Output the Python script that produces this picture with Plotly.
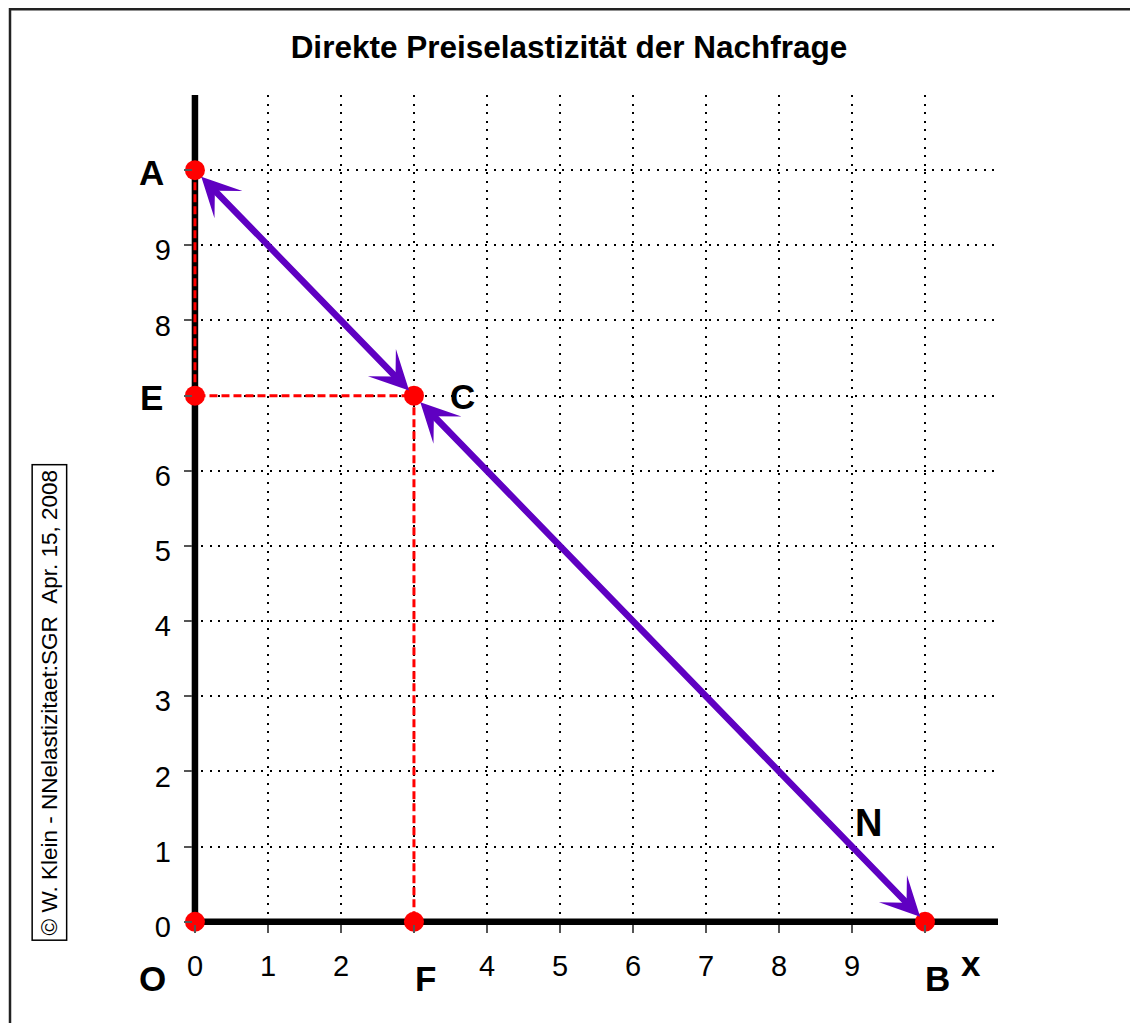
import plotly.graph_objects as go

# ---- data ----
title_text = "Direkte Preiselastizität der Nachfrage"
point_names = ["A", "E", "C", "O", "F", "B"]
point_x = [0, 0, 3, 0, 3, 10]
point_y = [10, 7, 7, 0, 0, 0]
demand_x = [0, 3, 10]          # A -> C -> B
demand_y = [10, 7, 0]
guide_x = [0, 0, 3, 3]         # A -> E -> C -> F
guide_y = [10, 7, 7, 0]
x_tickvals = [0, 1, 2, 3, 4, 5, 6, 7, 8, 9, 10]
x_ticktext = ["0", "1", "2", "", "4", "5", "6", "7", "8", "9", ""]
y_tickvals = [0, 1, 2, 3, 4, 5, 6, 7, 8, 9, 10]
y_ticktext = ["0", "1", "2", "3", "4", "5", "6", "", "8", "9", ""]
axis_max = 11
copyright_text = "© W. Klein - NNelastizitaet:SGR \u00a0Apr. 15, 2008"

# ---- styles / layout ----
FONT = "Liberation Sans, Arial, sans-serif"
PURPLE = "#5F00C2"
RED = "#FF0000"
PAD = 0.15                      # small range padding below / left of the axes
label_shift = {"A": (-43, -2), "E": (-43, -2), "C": (49, -1),
               "O": (-42, -57), "F": (12, -57), "B": (12, -57)}

W, H = 1130, 1015
ML, MT = 176, 87
PW, PH = 814, 838
MR = W - ML - PW
MB = H - MT - PH


def px_(v):   # data x -> paper fraction (for labels placed outside the axis range)
    return (v + PAD) / (axis_max + PAD)


def py_(v):
    return (v + PAD) / (axis_max + PAD)


# y tick labels get a trailing no-break space to keep a little more gap to the axis
y_ticklabels = [t + "\u00a0" if t else "" for t in y_ticktext]

fig = go.Figure()

# thick axes
fig.add_trace(go.Scatter(x=[0, 0, axis_max], y=[axis_max, 0, 0], mode="lines",
                         line=dict(color="black", width=6.5), hoverinfo="skip",
                         showlegend=False))
# red dashed guides
fig.add_trace(go.Scatter(x=guide_x, y=guide_y, mode="lines",
                         line=dict(color=RED, width=3, dash="8px,4px"),
                         hoverinfo="skip", showlegend=False))
# red points
fig.add_trace(go.Scatter(x=point_x, y=point_y, mode="markers",
                         marker=dict(color=RED, size=20, line=dict(width=0)),
                         cliponaxis=False, showlegend=False))

annotations = []
# double-headed arrows along the demand line
for i in range(len(demand_x) - 1):
    annotations.append(dict(
        x=demand_x[i + 1], y=demand_y[i + 1], ax=demand_x[i], ay=demand_y[i],
        xref="x", yref="y", axref="x", ayref="y", text="", showarrow=True,
        arrowhead=3, startarrowhead=3, arrowside="end+start",
        arrowwidth=6.5, arrowsize=1.0, startarrowsize=1.0,
        arrowcolor=PURPLE, standoff=7, startstandoff=7))

# point labels
for n, px, py in zip(point_names, point_x, point_y):
    dx, dy = label_shift[n]
    annotations.append(dict(x=px, y=py, xref="x", yref="y", text=f"<b>{n}</b>",
                            showarrow=False, xshift=dx, yshift=dy,
                            font=dict(family=FONT, size=35, color="black")))

# axis names, curve label and copyright box
annotations += [
    dict(x=-0.342, y=10.76, xref="x", yref="y", text="<b>p</b>", showarrow=False,
         font=dict(family=FONT, size=35, color="black")),
    dict(x=px_(10.63), y=py_(-0.55), xref="paper", yref="paper", text="<b>x</b>",
         xanchor="center", yanchor="middle",
         showarrow=False, font=dict(family=FONT, size=35, color="black")),
    dict(x=9.22, y=1.32, xref="x", yref="y", text="<b>N</b>", showarrow=False,
         font=dict(family=FONT, size=38, color="black")),
    dict(x=px_(-1.99), y=py_(2.92), xref="paper", yref="paper", text=copyright_text,
         xanchor="center", yanchor="middle",
         showarrow=False, textangle=-90, bordercolor="black", borderwidth=1.5,
         borderpad=4, font=dict(family=FONT, size=22.5, color="black")),
]

axis_common = dict(range=[-PAD, axis_max], showgrid=True, gridcolor="black",
                   gridwidth=1.5, griddash="2px,6.6px", zeroline=False,
                   showline=False, ticks="inside", ticklen=8, tickwidth=2,
                   tickcolor="#555555",
                   tickfont=dict(family=FONT, size=29, color="black"),
                   tickmode="array", fixedrange=True)

fig.update_layout(
    width=W, height=H,
    margin=dict(l=ML, r=MR, t=MT, b=MB, autoexpand=False),
    paper_bgcolor="white", plot_bgcolor="white",
    title=dict(text=f"<b>{title_text}</b>", x=561 / W, xref="container", xanchor="center",
               y=1 - 39 / H, yref="container", yanchor="middle",
               font=dict(family=FONT, size=31.5, color="black")),
    xaxis=dict(**axis_common, tickvals=x_tickvals, ticktext=x_ticktext,
               ticklabelstandoff=13),
    yaxis=dict(**axis_common, tickvals=y_tickvals, ticktext=y_ticklabels,
               ticklabelstandoff=4, ticklabelshift=5),
    annotations=annotations,
    shapes=[dict(type="rect", xref="paper", yref="paper",
                 x0=(2 - ML) / PW, x1=(W + 20 - ML) / PW,
                 y0=-(MB + 30) / PH, y1=(PH + MT - 1.2) / PH,
                 line=dict(color="#222222", width=2.5), layer="above")],
)

fig.write_html("out.html")
